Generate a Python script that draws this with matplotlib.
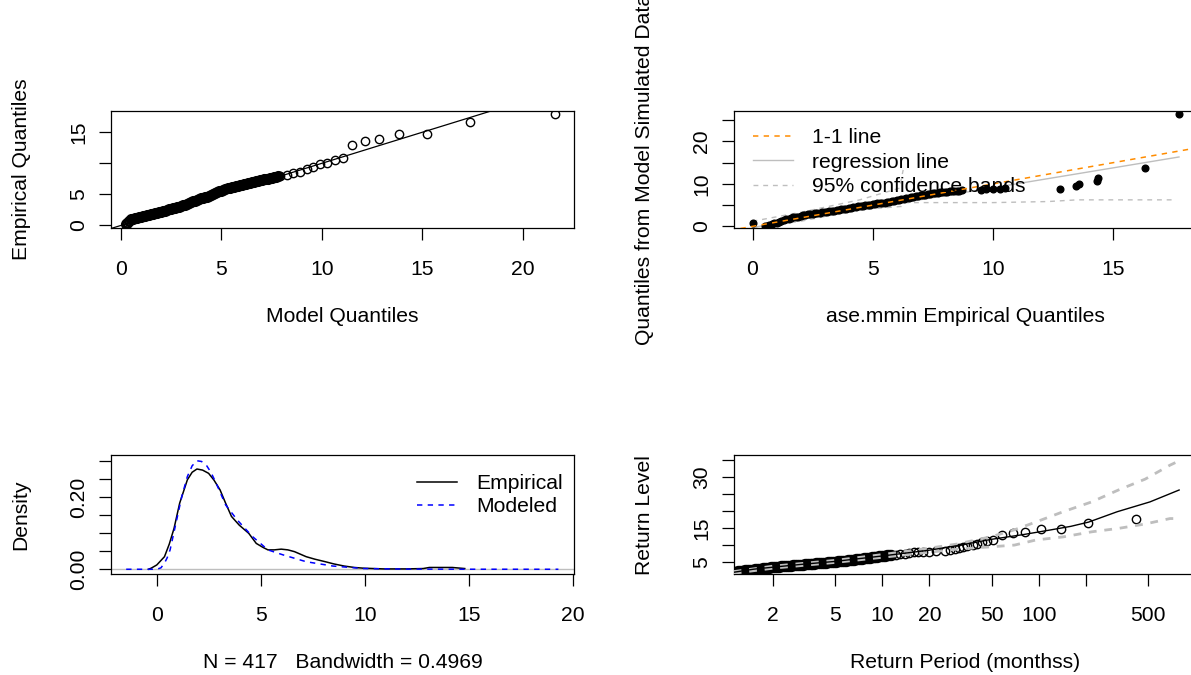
import matplotlib
matplotlib.use('Agg')
import matplotlib.pyplot as plt

plt.rcParams['font.family'] = ['Liberation Sans', 'DejaVu Sans']
plt.rcParams['font.size'] = 15.2

# --- top left: QQ plot (model vs empirical quantiles) ---
# bulk of the sample (circles overlap into a solid band)
qq_model = [0.26, 0.3, 0.4, 0.5, 0.6, 0.7, 0.8, 0.9, 1.0, 1.1, 1.2, 1.3, 1.4, 1.5, 1.6,
            1.7, 1.8, 1.9, 2.0, 2.1, 2.2, 2.3, 2.4, 2.5, 2.6, 2.7, 2.8, 2.9, 3.0, 3.1,
            3.2, 3.3, 3.4, 3.5, 3.6, 3.7, 3.8, 3.9, 4.0, 4.1, 4.2, 4.3, 4.4, 4.5, 4.6,
            4.7, 4.8, 4.9, 5.0, 5.1, 5.2, 5.3, 5.4, 5.5, 5.6, 5.7, 5.8, 5.9, 6.0, 6.1,
            6.2, 6.3, 6.4, 6.5, 6.6, 6.7, 6.8, 6.9, 7.0, 7.1, 7.2, 7.3, 7.4, 7.5, 7.6,
            7.7, 7.8]
qq_emp = [0.25, 0.40, 0.75, 1.00, 1.10, 1.20, 1.27, 1.33, 1.40, 1.48, 1.55, 1.63, 1.71,
          1.79, 1.87, 1.95, 2.03, 2.11, 2.20, 2.29, 2.38, 2.47, 2.56, 2.65, 2.74, 2.83,
          2.92, 3.00, 3.10, 3.22, 3.34, 3.47, 3.60, 3.73, 3.86, 4.00, 4.13, 4.25, 4.35,
          4.45, 4.55, 4.65, 4.77, 4.88, 5.00, 5.15, 5.33, 5.50, 5.60, 5.72, 5.84, 5.95,
          6.04, 6.12, 6.20, 6.30, 6.40, 6.47, 6.55, 6.63, 6.71, 6.80, 6.89, 6.98, 7.06,
          7.15, 7.22, 7.28, 7.35, 7.42, 7.48, 7.55, 7.62, 7.69, 7.76, 7.83, 7.90]
# upper tail
qq_model_tail = [7.9, 8.24, 8.57, 8.9, 9.24, 9.57, 9.9, 10.23, 10.65, 11.03, 11.48,
                 12.17, 12.85, 13.85, 15.24, 17.36, 21.60]
qq_emp_tail = [7.97, 8.13, 8.40, 8.67, 9.06, 9.48, 9.87, 10.00, 10.46, 10.85, 13.00,
               13.66, 13.93, 14.75, 14.75, 16.60, 17.90]

# --- top right: empirical vs simulated quantiles ---
sim_x = [0.0, 0.5, 0.6, 0.7, 0.8, 0.9, 1.0, 1.1, 1.2, 1.3, 1.4, 1.5, 1.6, 1.7, 1.8, 1.9,
         2.0, 2.1, 2.2, 2.3, 2.4, 2.5, 2.6, 2.7, 2.8, 2.9, 3.0, 3.1, 3.2, 3.3, 3.4, 3.5,
         3.6, 3.7, 3.8, 3.9, 4.0, 4.1, 4.2, 4.3, 4.4, 4.5, 4.6, 4.7, 4.8, 4.9, 5.0, 5.1,
         5.2, 5.3, 5.4, 5.5, 5.6, 5.7, 5.8, 5.9, 6.0, 6.1, 6.2, 6.3, 6.4, 6.5, 6.6, 6.7,
         6.8, 6.9, 7.0, 7.1, 7.2, 7.3, 7.4, 7.5, 7.6, 7.7, 7.8, 7.9, 8.0, 8.1, 8.2, 8.3,
         8.4, 8.5, 8.6, 8.7, 9.5, 9.7, 10.0, 10.3, 10.5,
         12.8, 13.46, 13.6, 14.33, 14.4, 16.33, 17.75]
sim_y = [0.8, 0.1, 0.2, 0.3, 0.5, 0.7, 0.9, 1.1, 1.3, 1.5, 1.65, 1.8, 1.95, 2.1, 2.2, 2.3,
         2.45, 2.6, 2.7, 2.8, 2.9, 3.0, 3.1, 3.2, 3.25, 3.3, 3.4, 3.5, 3.55, 3.6, 3.7, 3.8,
         3.9, 4.0, 4.1, 4.2, 4.3, 4.4, 4.5, 4.6, 4.7, 4.8, 4.9, 5.0, 5.05, 5.1, 5.2, 5.3,
         5.4, 5.5, 5.55, 5.6, 5.7, 5.8, 5.9, 6.0, 6.1, 6.2, 6.35, 6.5, 6.65, 6.8, 6.9, 7.0,
         7.1, 7.2, 7.3, 7.4, 7.5, 7.6, 7.7, 7.8, 7.85, 7.9, 8.0, 8.1, 8.15, 8.2, 8.25, 8.3,
         8.35, 8.4, 8.45, 8.5, 8.6, 8.7, 8.8, 8.9, 9.0,
         8.9, 9.6, 10.1, 10.6, 11.4, 13.8, 26.4]
reg_x = [0.0, 17.75]
reg_y = [-0.26, 16.35]
band_up_x = [0.0, 2.0, 4.46, 6.12, 6.27]
band_up_y = [1.2, 3.3, 6.25, 9.0, 13.3]
band_lo_x = [0.0, 2.0, 4.42, 6.2, 6.3, 10.0, 12.3, 13.5, 17.55]
band_lo_y = [-0.3, 1.2, 3.9, 4.7, 5.6, 5.6, 5.85, 6.25, 6.25]

# --- bottom left: densities ---
dens_emp_x = [-0.40, -0.27, 0.00, 0.37, 0.60, 0.83, 1.10, 1.47, 1.70, 1.93, 2.20, 2.49,
              2.75, 3.04, 3.30, 3.59, 3.96, 4.42, 4.78, 5.10, 5.34, 5.65, 5.98, 6.30,
              6.62, 7.18, 7.60, 8.10, 8.50, 9.00, 9.50, 9.94, 10.90, 12.00, 12.80, 13.10,
              13.50, 14.20, 14.80]
dens_emp_y = [0.000, 0.003, 0.012, 0.035, 0.070, 0.114, 0.184, 0.249, 0.270, 0.279,
              0.276, 0.267, 0.248, 0.221, 0.185, 0.147, 0.123, 0.100, 0.072, 0.061,
              0.054, 0.054, 0.056, 0.054, 0.049, 0.035, 0.028, 0.021, 0.015, 0.009,
              0.005, 0.003, 0.001, 0.001, 0.002, 0.005, 0.005, 0.005, 0.002]
dens_mod_x = [-1.47, -0.50, 0.00, 0.20, 0.37, 0.50, 0.64, 0.92, 1.20, 1.47, 1.70, 1.93,
              2.15, 2.40, 2.60, 2.85, 3.31, 3.87, 4.60, 5.34, 6.07, 7.18, 8.46, 9.94,
              12.00, 15.00, 19.30]
dens_mod_y = [0.000, 0.000, 0.000, 0.004, 0.017, 0.032, 0.054, 0.128, 0.202, 0.258,
              0.288, 0.302, 0.300, 0.288, 0.270, 0.240, 0.179, 0.137, 0.091, 0.054,
              0.040, 0.021, 0.009, 0.002, 0.0005, 0.0001, 0.000]

# --- bottom right: return level plot ---
# short return periods (circles overlap into a solid band)
rp_T = [1.12, 1.15, 1.19, 1.22, 1.26, 1.29, 1.33, 1.37, 1.41, 1.45, 1.49, 1.54, 1.58,
        1.63, 1.68, 1.73, 1.78, 1.83, 1.88, 1.94, 2.00, 2.06, 2.12, 2.18, 2.24, 2.31,
        2.38, 2.45, 2.52, 2.59, 2.67, 2.75, 2.83, 2.91, 3.00, 3.09, 3.18, 3.27, 3.37,
        3.47, 3.57, 3.67, 3.78, 3.89, 4.01, 4.13, 4.25, 4.37, 4.50, 4.64, 4.77, 4.91,
        5.06, 5.21, 5.36, 5.52, 5.68, 5.85, 6.02, 6.20, 6.38, 6.57, 6.76, 6.96, 7.17,
        7.38, 7.59, 7.82, 8.05, 8.28, 8.53, 8.78, 9.03, 9.30, 9.57, 9.85, 10.14, 10.44,
        10.75, 11.07, 11.40]
rp_level = [2.20, 2.27, 2.34, 2.41, 2.48, 2.55, 2.62, 2.69, 2.76, 2.83, 2.90, 2.96, 3.03,
            3.10, 3.17, 3.24, 3.31, 3.38, 3.45, 3.52, 3.59, 3.65, 3.70, 3.75, 3.80, 3.85,
            3.90, 3.95, 4.00, 4.05, 4.10, 4.15, 4.20, 4.25, 4.30, 4.35, 4.40, 4.45, 4.50,
            4.55, 4.60, 4.65, 4.70, 4.75, 4.80, 4.85, 4.90, 4.95, 5.00, 5.05, 5.10, 5.15,
            5.20, 5.27, 5.34, 5.41, 5.49, 5.56, 5.63, 5.70, 5.77, 5.84, 5.91, 5.99, 6.06,
            6.13, 6.20, 6.27, 6.34, 6.41, 6.49, 6.56, 6.63, 6.70, 6.77, 6.84, 6.91, 6.99,
            7.06, 7.13, 7.20]
# longer return periods
rp_T_tail = [12.3, 13.0, 14.0, 14.8, 16.0, 17.0, 18.3, 20.0, 22.0, 25.0, 27.0, 29.0,
             31.0, 33.0, 35.0, 38.0, 40.0, 43.6, 46.4, 51.1, 58.3, 68.5, 81.7, 103.5,
             139.0, 206.5, 419.0]
rp_level_tail = [7.30, 7.40, 7.60, 7.90, 8.00, 8.05, 8.10, 8.20, 8.40, 8.50, 8.60, 8.80,
                 9.20, 9.40, 9.70, 10.00, 10.30, 11.00, 11.20, 11.60, 13.00, 13.70, 14.00,
                 14.70, 14.80, 16.60, 17.90]
rl_T = [1.12, 1.5, 2, 3, 5, 10, 20, 30, 50, 80, 117, 160, 208, 317, 514, 790]
rl_y = [2.1, 3.0, 3.6, 4.4, 5.3, 6.9, 8.6, 9.9, 11.8, 13.2, 14.5, 15.6, 16.85, 19.9, 22.8, 26.3]
ci_T = [1.12, 2, 5, 10, 20, 30, 50, 70, 96, 143, 218, 323, 479, 690, 800]
ci_up = [2.3, 3.9, 5.6, 7.3, 9.2, 10.4, 12.6, 14.6, 16.9, 19.9, 22.8, 26.3, 29.5, 33.6, 35.0]
ci_lo = [1.8, 3.3, 5.0, 6.5, 8.0, 8.9, 9.6, 10.1, 11.6, 12.5, 14.0, 15.0, 16.3, 17.9, 17.9]

W, H = 1191.0, 675.0
fig = plt.figure(figsize=(W / 100, H / 100), dpi=100)


def panel(l, t, r, b):
    return fig.add_axes([l / W, 1 - b / H, (r - l) / W, (b - t) / H])


def rstyle(ax, xt, xl, yt, yl, xlab, ylab):
    ax.set_xticks(xt)
    ax.set_xticklabels(xl)
    ax.set_yticks(yt)
    ax.set_yticklabels(yl, rotation=90, va='center', ha='right')
    ax.tick_params(axis='both', direction='out', length=8.6, width=0.9)
    ax.tick_params(axis='x', pad=14.0)
    ax.tick_params(axis='y', pad=8.0)
    ax.minorticks_off()
    for s in ax.spines.values():
        s.set_linewidth(0.9)
    ax.set_xlabel(xlab)
    ax.set_ylabel(ylab)
    ax.xaxis.label.set_va('center')
    ax.yaxis.label.set_va('center')
    hpx = ax.get_position().height * H
    ax.xaxis.set_label_coords(0.5, -88 / hpx)
    ax.yaxis.set_label_coords(-0.194, 0.5)


ax1 = panel(111, 110.5, 574, 228.5)
ax2 = panel(734, 110.5, 1197, 228.5)
ax3 = panel(111, 455, 574, 574.3)
ax4 = panel(734, 455, 1197, 574.3)

# top left
ax1.plot(qq_model, qq_emp, 'o', ms=6, mfc='none', mec='black', mew=2.0)
ax1.plot(qq_model_tail, qq_emp_tail, 'o', ms=6, mfc='none', mec='black', mew=1.0)
ax1.axline((0, 0), slope=1, color='black', lw=0.9)
ax1.set_xlim(-0.5, 22.55)
ax1.set_ylim(-0.5, 18.5)
rstyle(ax1, [0, 5, 10, 15, 20], ['0', '5', '10', '15', '20'],
       [0, 5, 10, 15], ['0', '5', '', '15'], 'Model Quantiles', 'Empirical Quantiles')

# top right
ax2.plot(sim_x, sim_y, 'o', ms=4.8, color='black', zorder=3)
ax2.plot(band_lo_x, band_lo_y, color='#BEBEBE', lw=1.0, dashes=(3.5, 3.5), zorder=2)
ax2.plot(band_up_x, band_up_y, color='#BEBEBE', lw=1.0, dashes=(3.5, 3.5), zorder=2)
l_one = ax2.axline((0, 0), slope=1, color='#FF8C00', lw=1.1, dashes=(3.5, 3.5), zorder=4)
l_reg, = ax2.plot(reg_x, reg_y, color='#BEBEBE', lw=1.0, zorder=2)
l_band, = ax2.plot([], [], color='#BEBEBE', lw=1.0, dashes=(3.5, 3.5))
ax2.set_xlim(-0.77, 18.5)
ax2.set_ylim(-0.5, 27.3)
rstyle(ax2, [0, 5, 10, 15], ['0', '5', '10', '15'],
       [0, 5, 10, 15, 20, 25], ['0', '', '10', '', '20', ''],
       'ase.mmin Empirical Quantiles', 'Quantiles from Model Simulated Data')
ax2.legend([l_one, l_reg, l_band], ['1-1 line', 'regression line', '95% confidence bands'],
           loc='upper left', bbox_to_anchor=(753 / W, 1 - 128 / H),
           bbox_transform=fig.transFigure, frameon=False, borderpad=0,
           borderaxespad=0, handlelength=1.9, handletextpad=0.9, labelspacing=0.27)

# bottom left
ax3.axhline(0, color='#BEBEBE', lw=1.0, zorder=1)
l_e, = ax3.plot(dens_emp_x, dens_emp_y, color='black', lw=1.1, zorder=2)
l_m, = ax3.plot(dens_mod_x, dens_mod_y, color='#0000FF', lw=1.1, dashes=(3.5, 3.5), zorder=3)
ax3.set_xlim(-2.2, 20.05)
ax3.set_ylim(-0.014, 0.318)
rstyle(ax3, [0, 5, 10, 15, 20], ['0', '5', '10', '15', '20'],
       [0, 0.05, 0.10, 0.15, 0.20, 0.25, 0.30], ['0.00', '', '', '', '0.20', '', ''],
       'N = 417   Bandwidth = 0.4969', 'Density')
ax3.legend([l_e, l_m], ['Empirical', 'Modeled'], loc='upper left',
           bbox_to_anchor=(417 / W, 1 - 474 / H), bbox_transform=fig.transFigure,
           frameon=False, borderpad=0, borderaxespad=0, handlelength=1.9,
           handletextpad=0.9, labelspacing=0.2)

# bottom right
ax4.set_xscale('log')
ax4.plot(rp_T, rp_level, 'o', ms=6, mfc='none', mec='black', mew=2.2, zorder=2)
ax4.plot(rp_T_tail, rp_level_tail, 'o', ms=6, mfc='none', mec='black', mew=1.0, zorder=2)
ax4.plot(ci_T, ci_up, color='#BEBEBE', lw=2.0, dashes=(2.8, 2.8), zorder=3)
ax4.plot(ci_T, ci_lo, color='#BEBEBE', lw=2.0, dashes=(2.8, 2.8), zorder=3)
ax4.plot(rl_T, rl_y, color='black', lw=1.0, zorder=4)
ax4.set_xlim(1.124, 1028)
ax4.set_ylim(1.5, 36.6)
rstyle(ax4, [2, 5, 10, 20, 50, 100, 200, 500], ['2', '5', '10', '20', '50', '100', '', '500'],
       [5, 10, 15, 20, 25, 30, 35], ['5', '', '15', '', '', '30', ''],
       'Return Period (monthss)', 'Return Level')

fig.savefig('out.png', dpi=100)
